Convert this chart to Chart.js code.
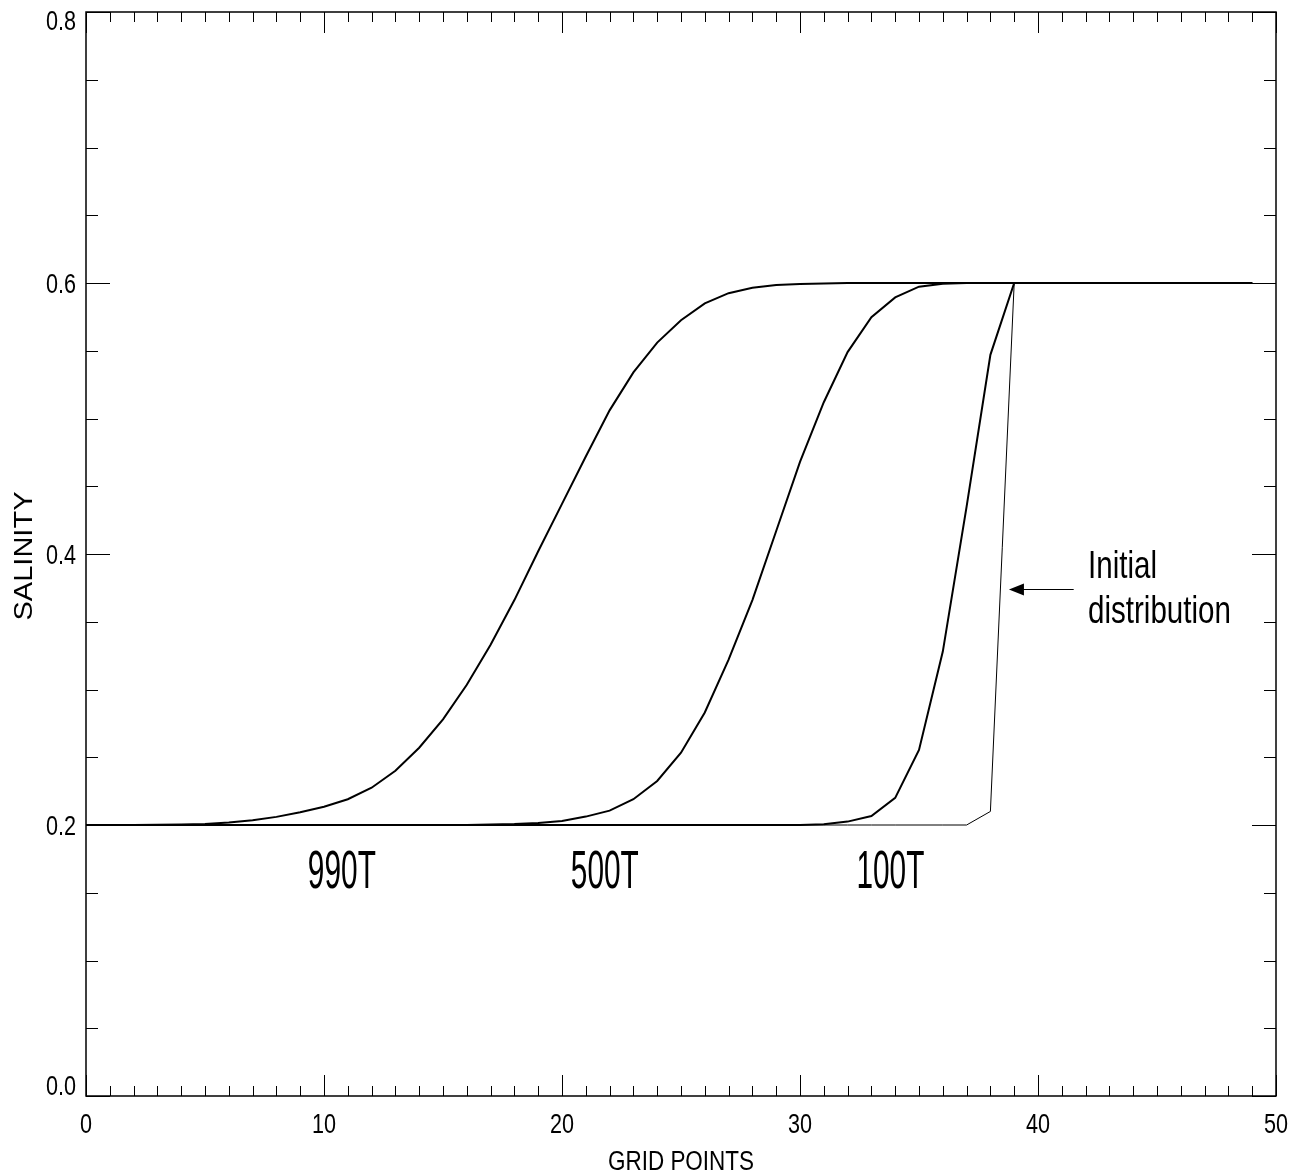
<!DOCTYPE html>
<html>
<head>
<meta charset="utf-8">
<title>Salinity profiles</title>
<script src="https://cdn.jsdelivr.net/npm/chart.js@4.4.1/dist/chart.umd.min.js"></script>
<style>
  html, body { margin: 0; padding: 0; background: #fff; }
  canvas { display: block; }
</style>
</head>
<body>
<canvas id="salinityChart" width="1296" height="1174"></canvas>
<script>
// ---- profile data: salinity at each grid point ----
const gridPoints = [0,1,2,3,4,5,6,7,8,9,10,11,12,13,14,15,16,17,18,19,20,21,22,23,24,
  25,26,27,28,29,30,31,32,33,34,35,36,37,38,39,40,41,42,43,44,45,46,47,48,49];

const salinityInitial = [0.2,0.2,0.2,0.2,0.2,0.2,0.2,0.2,0.2,0.2,0.2,0.2,0.2,0.2,0.2,0.2,
  0.2,0.2,0.2,0.2,0.2,0.2,0.2,0.2,0.2,0.2,0.2,0.2,0.2,0.2,0.2,0.2,0.2,0.2,0.2,0.2,0.2,0.2,
  0.21,0.6,0.6,0.6,0.6,0.6,0.6,0.6,0.6,0.6,0.6,0.6];

const salinity100T = [0.2,0.2,0.2,0.2,0.2,0.2,0.2,0.2,0.2,0.2,0.2,0.2,0.2,0.2,0.2,0.2,
  0.2,0.2,0.2,0.2,0.2,0.2,0.2,0.2,0.2,0.2,0.2,0.2,0.2,0.2,0.2,0.2005,0.2025,0.2066,0.220,
  0.2554,0.328,0.435,0.547,0.6,0.6,0.6,0.6,0.6,0.6,0.6,0.6,0.6,0.6,0.6];

const salinity500T = [0.2,0.2,0.2,0.2,0.2,0.2,0.2,0.2,0.2,0.2,0.2,0.2,0.2,0.2,0.2,0.2,
  0.2,0.2003,0.2007,0.2015,0.203,0.2062,0.2106,0.219,0.2325,0.2534,0.283,0.322,0.366,0.417,
  0.468,0.512,0.549,0.5747,0.5894,0.5973,0.5995,0.6,0.6,0.6,0.6,0.6,0.6,0.6,0.6,0.6,0.6,
  0.6,0.6,0.6];

const salinity990T = [0.2,0.2,0.2,0.2001,0.2003,0.2008,0.2018,0.2035,0.206,0.2094,0.2135,
  0.219,0.2275,0.24,0.257,0.278,0.3035,0.333,0.366,0.402,0.437,0.472,0.506,0.534,0.556,
  0.5725,0.585,0.5925,0.5965,0.5985,0.5993,0.5997,0.6,0.6,0.6,0.6,0.6,0.6,0.6,0.6,0.6,0.6,
  0.6,0.6,0.6,0.6,0.6,0.6,0.6,0.6];

// axis ticks
const xTickValues = [0, 10, 20, 30, 40, 50];
const xTickLabels = ['0', '10', '20', '30', '40', '50'];
const yTickValues = [0, 0.2, 0.4, 0.6, 0.8];
const yTickLabels = ['0.0', '0.2', '0.4', '0.6', '0.8'];

// curve annotations (grid point of label centre, salinity of baseline)
const curveNames = ['990T', '500T', '100T'];
const curveNameX = [10.75, 21.8, 33.8];
const curveNameY = 0.1535;
const noteLines = ['Initial', 'distribution'];

const FONT = "'Liberation Sans', Arial, sans-serif";
const NARROW_SCALE = 0.8;

function toPoints(ys) {
  return gridPoints.map((g, i) => ({ x: g, y: ys[i] }));
}

// text drawn with a horizontal squeeze factor
function drawSqueezed(ctx, text, x, y, font, sx, align) {
  ctx.save();
  ctx.font = font;
  ctx.translate(x, y);
  ctx.scale(sx, 1);
  ctx.textAlign = align;
  ctx.textBaseline = 'alphabetic';
  ctx.fillText(text, 0, 0);
  ctx.restore();
}

function squeezeTo(ctx, text, font, width) {
  ctx.font = font;
  return width / ctx.measureText(text).width;
}

const framePlugin = {
  id: 'frame',
  afterDraw(chart) {
    const { ctx, chartArea: a, scales: { x, y } } = chart;
    ctx.save();
    ctx.strokeStyle = '#000';
    ctx.fillStyle = '#000';

    // inward ticks on all four sides
    ctx.lineWidth = 1;
    ctx.beginPath();
    for (let v = 0; v <= 50; v++) {
      const px = Math.round(x.getPixelForValue(v)) + 0.5;
      const len = v % 10 === 0 ? 21 : 10;
      ctx.moveTo(px, a.bottom); ctx.lineTo(px, a.bottom - len);
      ctx.moveTo(px, a.top); ctx.lineTo(px, a.top + len);
    }
    for (let k = 0; k <= 16; k++) {
      const py = Math.round(y.getPixelForValue(k * 0.05)) + 0.5;
      const len = k % 4 === 0 ? 24 : 12;
      ctx.moveTo(a.left, py); ctx.lineTo(a.left + len, py);
      ctx.moveTo(a.right, py); ctx.lineTo(a.right - len, py);
    }
    ctx.stroke();

    ctx.lineWidth = 1.5;
    ctx.strokeRect(a.left, a.top, a.right - a.left, a.bottom - a.top);

    // tick labels
    const tickFont = '27px ' + FONT;
    xTickValues.forEach((v, i) => {
      drawSqueezed(ctx, xTickLabels[i], x.getPixelForValue(v), a.bottom + 37, tickFont, NARROW_SCALE, 'center');
    });
    yTickValues.forEach((v, i) => {
      const py = y.getPixelForValue(v);
      const base = Math.min(Math.max(py + 10, a.top + 18), a.bottom - 1);
      drawSqueezed(ctx, yTickLabels[i], a.left - 10, base, tickFont, NARROW_SCALE, 'right');
    });

    // axis titles
    const titleFont = '27px ' + FONT;
    drawSqueezed(ctx, 'GRID POINTS', (a.left + a.right) / 2, a.bottom + 74, titleFont,
      squeezeTo(ctx, 'GRID POINTS', titleFont, 146), 'center');

    ctx.save();
    const yFont = '25px ' + FONT;
    const ys = squeezeTo(ctx, 'SALINITY', yFont, 129);
    ctx.translate(32, (a.top + a.bottom) / 2 + 2);
    ctx.rotate(-Math.PI / 2);
    drawSqueezed(ctx, 'SALINITY', 0, 0, yFont, ys, 'center');
    ctx.restore();

    // curve names
    const nameFont = '53px ' + FONT;
    const nameScale = squeezeTo(ctx, curveNames[0], nameFont, 68);
    curveNames.forEach((name, i) => {
      drawSqueezed(ctx, name, x.getPixelForValue(curveNameX[i]), y.getPixelForValue(curveNameY),
        nameFont, nameScale, 'center');
    });

    // note with arrow pointing at the initial profile
    const noteFont = '39px ' + FONT;
    const noteScale = squeezeTo(ctx, noteLines[1], noteFont, 143);
    const nx = x.getPixelForValue(42.1);
    const ny = y.getPixelForValue(0.3823);
    noteLines.forEach((line, i) => drawSqueezed(ctx, line, nx, ny + i * 45, noteFont, noteScale, 'left'));

    const tipX = x.getPixelForValue(38.78);
    const tailX = x.getPixelForValue(41.5);
    const ay = Math.round(y.getPixelForValue(0.3742)) + 0.5;
    ctx.lineWidth = 1;
    ctx.beginPath();
    ctx.moveTo(tailX, ay); ctx.lineTo(tipX + 12, ay);
    ctx.stroke();
    ctx.beginPath();
    ctx.moveTo(tipX, ay);
    ctx.lineTo(tipX + 15, ay - 6);
    ctx.lineTo(tipX + 15, ay + 6);
    ctx.closePath();
    ctx.fill();

    ctx.restore();
  }
};

function curve(ys, width) {
  return {
    data: toPoints(ys),
    borderColor: '#000',
    borderWidth: width,
    pointRadius: 0,
    tension: 0,
    fill: false
  };
}

new Chart(document.getElementById('salinityChart'), {
  type: 'line',
  data: {
    datasets: [
      curve(salinityInitial, 1),
      curve(salinity100T, 2),
      curve(salinity500T, 2),
      curve(salinity990T, 2)
    ]
  },
  options: {
    responsive: false,
    animation: false,
    devicePixelRatio: 1,
    layout: { padding: { top: 12, right: 20, left: 0, bottom: 0 } },
    plugins: { legend: { display: false }, tooltip: { enabled: false } },
    scales: {
      x: {
        type: 'linear',
        min: 0,
        max: 50,
        afterFit: s => { s.height = 78; s.paddingLeft = 0; s.paddingRight = 0; },
        grid: { display: false, drawTicks: false },
        border: { display: false },
        ticks: { display: false, stepSize: 10 }
      },
      y: {
        type: 'linear',
        min: 0,
        max: 0.8,
        afterFit: s => { s.width = 86; s.paddingTop = 0; s.paddingBottom = 0; },
        grid: { display: false, drawTicks: false },
        border: { display: false },
        ticks: { display: false, stepSize: 0.2 }
      }
    }
  },
  plugins: [framePlugin]
});
</script>
</body>
</html>
